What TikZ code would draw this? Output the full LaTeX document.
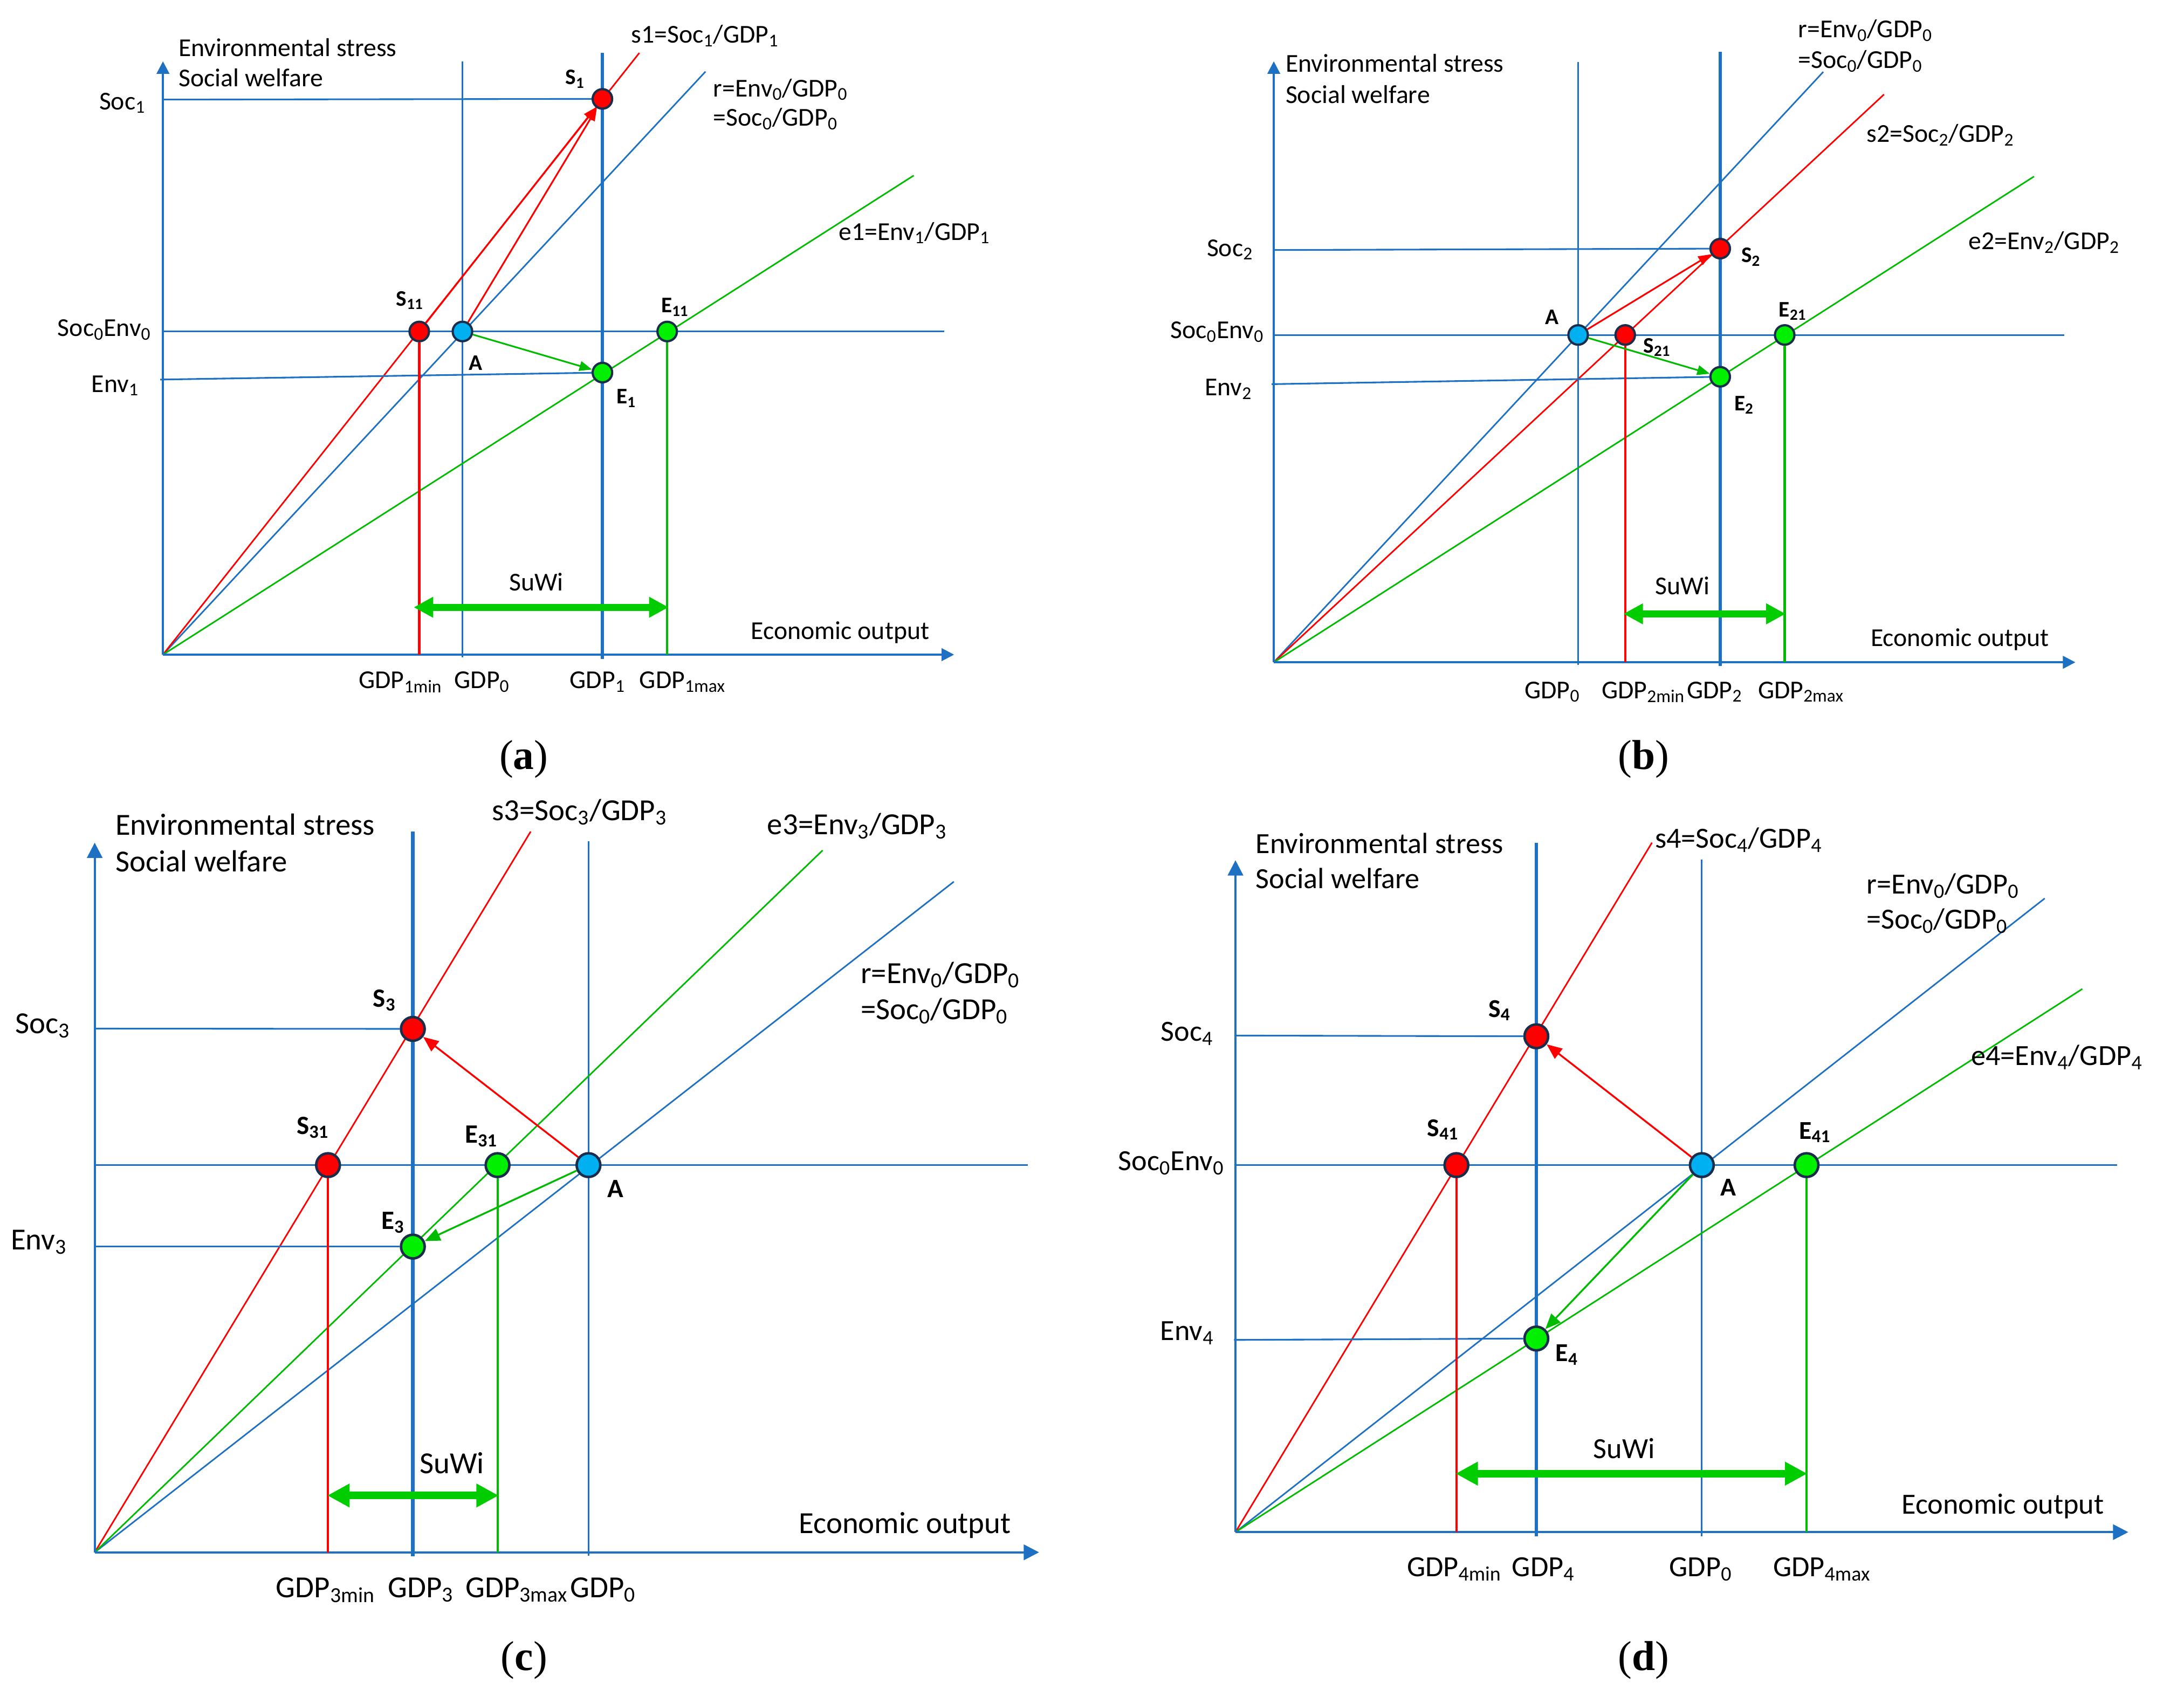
\documentclass[tikz,border=0pt]{standalone}
\usepackage{fontspec}
\setmainfont{Carlito}
\newfontfamily\capfont{Liberation Serif}
\usetikzlibrary{arrows.meta}
\definecolor{bl}{HTML}{1E71C2}
\definecolor{gl}{HTML}{00BB00}
\definecolor{sg}{HTML}{00CC00}
\definecolor{dg}{HTML}{00F000}
\definecolor{db}{HTML}{00B0F0}
\definecolor{nv}{HTML}{1A2E4C}
\newcommand{\sbs}[1]{\textsubscript{#1}}
\tikzset{
 axisl/.style={draw=bl, line width=1.5pt, -{Triangle[length=9pt,width=9pt]}},
 axisw/.style={draw=bl, line width=1.5pt, -{Triangle[length=11pt,width=11pt]}},
 gridl/.style={draw=bl, line width=1.2pt},
 thickv/.style={draw=bl, line width=2.6pt},
 rayR/.style={draw=red, line width=1.1pt},
 rayB/.style={draw=bl, line width=1.1pt},
 rayG/.style={draw=gl, line width=1.1pt},
 vR/.style={draw=red, line width=1.6pt},
 vG/.style={draw=gl, line width=1.6pt},
 arrR/.style={draw=red, line width=1.2pt, -{Triangle[length=9pt,width=7pt]}},
 arrG/.style={draw=gl, line width=1.2pt, -{Triangle[length=9pt,width=7pt]}},
 arrRw/.style={draw=red, line width=1.3pt, -{Triangle[length=11pt,width=9pt]}},
 arrGw/.style={draw=gl, line width=1.3pt, -{Triangle[length=11pt,width=9pt]}},
 suwiA/.style={draw=sg, line width=5pt, {Triangle[length=14pt,width=14pt]}-{Triangle[length=14pt,width=14pt]}},
 suwiC/.style={draw=sg, line width=5.5pt, {Triangle[length=16pt,width=16pt]}-{Triangle[length=16pt,width=16pt]}},
 pdot/.style={circle, draw=nv, line width=1.6pt, minimum size=14pt, inner sep=0pt},
 dR/.style={pdot, fill=red}, dG/.style={pdot, fill=dg}, dB/.style={pdot, fill=db},
 big/.style={minimum size=17pt, line width=1.8pt},
 ta/.style={inner sep=0pt, font=\fontsize{18.5}{22}\selectfont},
 tc/.style={inner sep=0pt, font=\fontsize{22}{26}\selectfont},
 td/.style={inner sep=0pt, font=\fontsize{21}{25}\selectfont},
 pa/.style={inner sep=0pt, font=\bfseries\fontsize{16}{19}\selectfont},
 pc/.style={inner sep=0pt, font=\bfseries\fontsize{19}{22}\selectfont},
 pd/.style={inner sep=0pt, font=\bfseries\fontsize{18.5}{22}\selectfont},
 capt/.style={inner sep=0pt, font=\capfont\fontsize{30}{34}\selectfont},
}
\begin{document}
\begin{tikzpicture}[x=1pt,y=-1pt]
\fill[white] (0,0) rectangle (1568,1213);
\useasboundingbox (0,0) rectangle (1568,1213);

% ===================== Panel (a) =====================
\coordinate (Oa) at (117,470);
\coordinate (YTa) at (117,44);
\coordinate (XTa) at (685,470);
\coordinate (Soc1a) at (117,71.5);
\coordinate (H0La) at (117,238);
\coordinate (H0Ra) at (678,238);
\coordinate (Env1a) at (115,272.5);
\coordinate (G0Ta) at (332,44);
\coordinate (G0Ba) at (332,472);
\coordinate (G1Ta) at (432.5,38);
\coordinate (G1Ba) at (432.5,473);
\coordinate (sEa) at (459,38);
\coordinate (rEa) at (506.5,51.4);
\coordinate (eEa) at (656,126);
\coordinate (SuLa) at (297,436);
\coordinate (SuRa) at (480,436);
\draw[gridl] (H0La) -- (H0Ra);
\draw[gridl] (G0Ta) -- (G0Ba);
\draw[thickv] (G1Ta) -- (G1Ba);
\draw[rayB] (Oa) -- (rEa);
\draw[rayR] (Oa) -- (sEa);
\draw[rayG] (Oa) -- (eEa);
\draw[axisl] (Oa) -- (YTa);
\draw[axisl] (Oa) -- (XTa);
\node[dR] (S1a) at (432.5,71) {};
\node[dR] (S11a) at (301,238) {};
\node[dB] (Aa) at (332,238) {};
\node[dG] (E11a) at (479,238) {};
\node[dG] (E1a) at (432.5,267.5) {};
\draw[gridl] (Soc1a) -- (S1a);
\draw[gridl] (Env1a) -- (E1a);
\draw[vR] (S11a) -- (S11a |- Oa);
\draw[vG] (E11a) -- (E11a |- Oa);
\draw[arrR] (S11a) -- (S1a);
\draw[arrR] (Aa) -- (S1a);
\draw[arrG] (Aa) -- (E1a);
\draw[suwiA] (SuLa) -- (SuRa);
\node[ta, anchor=base west] (ESa) at (128,40.5) {Environmental stress};
\node[ta, anchor=base west] (SWa) at (128,62) {Social welfare};
\node[ta, anchor=base east] (lSoc1a) at (104.6,78.6) {Soc\sbs{1}};
\node[ta, anchor=base east] (lSE0a) at (108.6,241.4) {Soc\sbs{0}Env\sbs{0}};
\node[ta, anchor=base east] (lEnv1a) at (99.8,281.5) {Env\sbs{1}};
\node[ta, anchor=base west] (ls1a) at (453,30.8) {s1=Soc\sbs{1}/GDP\sbs{1}};
\node[ta, anchor=base west] (lr1a) at (512,69.4) {r=Env\sbs{0}/GDP\sbs{0}};
\node[ta, anchor=base west] (lr2a) at (512,90.5) {=Soc\sbs{0}/GDP\sbs{0}};
\node[ta, anchor=base west] (le1a) at (602,172.4) {e1=Env\sbs{1}/GDP\sbs{1}};
\node[pa, anchor=base west] (tS1a) at (405.8,60.7) {S\sbs{1}};
\node[pa, anchor=base west] (tS11a) at (284.3,219.6) {S\sbs{11}};
\node[pa, anchor=base west] (tAa) at (336.3,265.8) {A};
\node[pa, anchor=base west] (tE11a) at (474.5,224.4) {E\sbs{11}};
\node[pa, anchor=base west] (tE1a) at (442.4,289.9) {E\sbs{1}};
\node[ta, anchor=base] (lSuWia) at (385,424) {SuWi};
\node[ta, anchor=base west] (lEOa) at (539,459) {Economic output};
\node[ta, anchor=base] (gmina) at (287.5,494.3) {GDP\sbs{1min}};
\node[ta, anchor=base] (g0a) at (346,494.3) {GDP\sbs{0}};
\node[ta, anchor=base] (g1a) at (429,494.3) {GDP\sbs{1}};
\node[ta, anchor=base] (gmaxa) at (490,494.3) {GDP\sbs{1max}};
\node[capt] (capa) at (376,545) {(\textbf{a})};

% ===================== Panel (b) =====================
\coordinate (Ob) at (914.5,475.5);
\coordinate (YTb) at (914.5,44);
\coordinate (XTb) at (1490,475.5);
\coordinate (Soc2b) at (914.5,179.5);
\coordinate (H0Lb) at (914.5,240.5);
\coordinate (H0Rb) at (1482,240.5);
\coordinate (Env2b) at (913,275.8);
\coordinate (G0Tb) at (1133,44.4);
\coordinate (G0Bb) at (1133,477.5);
\coordinate (G2Tb) at (1235,37.2);
\coordinate (G2Bb) at (1235,478);
\coordinate (rEb) at (1309,51.6);
\coordinate (sEb) at (1352.6,67.8);
\coordinate (eEb) at (1460.3,126.7);
\coordinate (SuLb) at (1165.5,440.7);
\coordinate (SuRb) at (1282,440.7);
\draw[gridl] (H0Lb) -- (H0Rb);
\draw[gridl] (G0Tb) -- (G0Bb);
\draw[thickv] (G2Tb) -- (G2Bb);
\draw[rayB] (Ob) -- (rEb);
\draw[rayR] (Ob) -- (sEb);
\draw[rayG] (Ob) -- (eEb);
\draw[axisl] (Ob) -- (YTb);
\draw[axisl] (Ob) -- (XTb);
\node[dR] (S2b) at (1235,178.5) {};
\node[dR] (S21b) at (1166.8,240.5) {};
\node[dB] (Ab) at (1133,240.5) {};
\node[dG] (E21b) at (1281.3,240.5) {};
\node[dG] (E2b) at (1235,270.5) {};
\draw[gridl] (Soc2b) -- (S2b);
\draw[gridl] (Env2b) -- (E2b);
\draw[vR] (S21b) -- (S21b |- Ob);
\draw[vG] (E21b) -- (E21b |- Ob);
\draw[arrR] (Ab) -- (S2b);
\draw[arrG] (Ab) -- (E2b);
\draw[suwiA] (SuLb) -- (SuRb);
\node[ta, anchor=base west] (ESb) at (922.8,51.6) {Environmental stress};
\node[ta, anchor=base west] (SWb) at (922.8,74) {Social welfare};
\node[ta, anchor=base east] (lSoc2b) at (899.8,184) {Soc\sbs{2}};
\node[ta, anchor=base east] (lSE0b) at (907.5,243) {Soc\sbs{0}Env\sbs{0}};
\node[ta, anchor=base east] (lEnv2b) at (899,284) {Env\sbs{2}};
\node[ta, anchor=base west] (lr1b) at (1290.8,27) {r=Env\sbs{0}/GDP\sbs{0}};
\node[ta, anchor=base west] (lr2b) at (1290.8,49) {=Soc\sbs{0}/GDP\sbs{0}};
\node[ta, anchor=base west] (ls2b) at (1340,102) {s2=Soc\sbs{2}/GDP\sbs{2}};
\node[ta, anchor=base west] (le2b) at (1413,179) {e2=Env\sbs{2}/GDP\sbs{2}};
\node[pa, anchor=base west] (tS2b) at (1250,188.4) {S\sbs{2}};
\node[pa, anchor=base west] (tS21b) at (1179.7,253.3) {S\sbs{21}};
\node[pa, anchor=base west] (tAb) at (1109.2,233) {A};
\node[pa, anchor=base west] (tE21b) at (1277,227.3) {E\sbs{21}};
\node[pa, anchor=base west] (tE2b) at (1244.9,294.7) {E\sbs{2}};
\node[ta, anchor=base] (lSuWib) at (1208,427) {SuWi};
\node[ta, anchor=base west] (lEOb) at (1342.9,464) {Economic output};
\node[ta, anchor=base] (g0b) at (1114.5,501.4) {GDP\sbs{0}};
\node[ta, anchor=base] (gminb) at (1179.8,501.4) {GDP\sbs{2min}};
\node[ta, anchor=base] (g2b) at (1231,501.4) {GDP\sbs{2}};
\node[ta, anchor=base] (gmaxb) at (1293,501.4) {GDP\sbs{2max}};
\node[capt] (capb) at (1180,545) {(\textbf{b})};

% ===================== Panel (c) =====================
\coordinate (Oc) at (68,1114.5);
\coordinate (YTc) at (68,605);
\coordinate (XTc) at (746,1114.5);
\coordinate (Soc3c) at (68,738.5);
\coordinate (H0Lc) at (68,836.5);
\coordinate (H0Rc) at (738,836.5);
\coordinate (Env3c) at (68,895);
\coordinate (G3Tc) at (296.4,597);
\coordinate (G3Bc) at (296.4,1117.5);
\coordinate (G0Tc) at (422.5,604);
\coordinate (G0Bc) at (422.5,1117);
\coordinate (sEc) at (381,597);
\coordinate (eEc) at (590.6,610.5);
\coordinate (rEc) at (684.8,633);
\coordinate (SuLc) at (235,1073.7);
\coordinate (SuRc) at (358,1073.7);
\draw[gridl] (H0Lc) -- (H0Rc);
\draw[gridl] (G0Tc) -- (G0Bc);
\draw[thickv] (G3Tc) -- (G3Bc);
\draw[rayB] (Oc) -- (rEc);
\draw[rayR] (Oc) -- (sEc);
\draw[rayG] (Oc) -- (eEc);
\draw[axisw] (Oc) -- (YTc);
\draw[axisw] (Oc) -- (XTc);
\node[dR, big] (S3c) at (296.4,738.7) {};
\node[dR, big] (S31c) at (235.5,836.5) {};
\node[dG, big] (E31c) at (357.2,836.5) {};
\node[dG, big] (E3c) at (296.4,895) {};
\node[dB, big] (Ac) at (422.5,836.5) {};
\draw[gridl] (Soc3c) -- (S3c);
\draw[gridl] (Env3c) -- (E3c);
\draw[vR] (S31c) -- (S31c |- Oc);
\draw[vG] (E31c) -- (E31c |- Oc);
\draw[arrRw] (Ac) -- (S3c);
\draw[arrGw] (Ac) -- (E3c);
\draw[suwiC] (SuLc) -- (SuRc);
\node[tc, anchor=base west] (ESc) at (82.7,599.5) {Environmental stress};
\node[tc, anchor=base west] (SWc) at (82.7,625.7) {Social welfare};
\node[tc, anchor=base east] (lSoc3c) at (50.7,742.1) {Soc\sbs{3}};
\node[tc, anchor=base east] (lEnv3c) at (48.2,897.2) {Env\sbs{3}};
\node[tc, anchor=base west] (ls3c) at (353,589) {s3=Soc\sbs{3}/GDP\sbs{3}};
\node[tc, anchor=base west] (le3c) at (550.7,599.2) {e3=Env\sbs{3}/GDP\sbs{3}};
\node[tc, anchor=base west] (lr1c) at (617.7,705.8) {r=Env\sbs{0}/GDP\sbs{0}};
\node[tc, anchor=base west] (lr2c) at (617.7,732) {=Soc\sbs{0}/GDP\sbs{0}};
\node[pc, anchor=base west] (tS3c) at (267.7,723) {S\sbs{3}};
\node[pc, anchor=base west] (tS31c) at (212.8,814.4) {S\sbs{31}};
\node[pc, anchor=base west] (tE31c) at (333.6,820.4) {E\sbs{31}};
\node[pc, anchor=base west] (tE3c) at (273.6,882.5) {E\sbs{3}};
\node[pc, anchor=base west] (tAc) at (435.9,859.8) {A};
\node[tc, anchor=base] (lSuWic) at (324.5,1058) {SuWi};
\node[tc, anchor=base west] (lEOc) at (573.4,1101) {Economic output};
\node[tc, anchor=base] (gminc) at (233.7,1147) {GDP\sbs{3min}};
\node[tc, anchor=base] (g3c) at (302,1147) {GDP\sbs{3}};
\node[tc, anchor=base] (gmaxc) at (371,1147) {GDP\sbs{3max}};
\node[tc, anchor=base] (g0c) at (433,1147) {GDP\sbs{0}};
\node[capt] (capc) at (376.3,1192) {(\textbf{c})};

% ===================== Panel (d) =====================
\coordinate (Od) at (887,1100);
\coordinate (YTd) at (887,617.6);
\coordinate (XTd) at (1528,1100);
\coordinate (Soc4d) at (887,743.5);
\coordinate (H0Ld) at (887,836.5);
\coordinate (H0Rd) at (1520,836.5);
\coordinate (Env4d) at (886,962);
\coordinate (G4Td) at (1103,605);
\coordinate (G4Bd) at (1103,1103);
\coordinate (G0Td) at (1221.8,617);
\coordinate (G0Bd) at (1221.8,1103);
\coordinate (sEd) at (1186,605);
\coordinate (rEd) at (1468,645);
\coordinate (eEd) at (1495,710);
\coordinate (SuLd) at (1045,1058);
\coordinate (SuRd) at (1297.5,1058);
\draw[gridl] (H0Ld) -- (H0Rd);
\draw[gridl] (G0Td) -- (G0Bd);
\draw[thickv] (G4Td) -- (G4Bd);
\draw[rayB] (Od) -- (rEd);
\draw[rayR] (Od) -- (sEd);
\draw[rayG] (Od) -- (eEd);
\draw[axisw] (Od) -- (YTd);
\draw[axisw] (Od) -- (XTd);
\node[dR, big] (S4d) at (1103,744) {};
\node[dR, big] (S41d) at (1045.6,836.5) {};
\node[dB, big] (Ad) at (1221.8,836.5) {};
\node[dG, big] (E41d) at (1297,836.5) {};
\node[dG, big] (E4d) at (1103,961) {};
\draw[gridl] (Soc4d) -- (S4d);
\draw[gridl] (Env4d) -- (E4d);
\draw[vR] (S41d) -- (S41d |- Od);
\draw[vG] (E41d) -- (E41d |- Od);
\draw[arrRw] (Ad) -- (S4d);
\draw[arrGw] (Ad) -- (E4d);
\draw[suwiC] (SuLd) -- (SuRd);
\node[td, anchor=base west] (ESd) at (901.4,612.5) {Environmental stress};
\node[td, anchor=base west] (SWd) at (901.4,637.9) {Social welfare};
\node[td, anchor=base east] (lSoc4d) at (871.2,747.3) {Soc\sbs{4}};
\node[td, anchor=base east] (lSE0d) at (879,840.2) {Soc\sbs{0}Env\sbs{0}};
\node[td, anchor=base east] (lEnv4d) at (871.7,962.2) {Env\sbs{4}};
\node[td, anchor=base west] (ls4d) at (1188,608.7) {s4=Soc\sbs{4}/GDP\sbs{4}};
\node[td, anchor=base west] (lr1d) at (1340,641.7) {r=Env\sbs{0}/GDP\sbs{0}};
\node[td, anchor=base west] (lr2d) at (1340,666.7) {=Soc\sbs{0}/GDP\sbs{0}};
\node[td, anchor=base west] (le4d) at (1415,764.7) {e4=Env\sbs{4}/GDP\sbs{4}};
\node[pd, anchor=base west] (tS4d) at (1068.5,730.2) {S\sbs{4}};
\node[pd, anchor=base west] (tS41d) at (1024.5,815.8) {S\sbs{41}};
\node[pd, anchor=base west] (tAd) at (1234.9,858.6) {A};
\node[pd, anchor=base west] (tE41d) at (1291.5,817.7) {E\sbs{41}};
\node[pd, anchor=base west] (tE4d) at (1116.7,977.4) {E\sbs{4}};
\node[td, anchor=base] (lSuWid) at (1166,1047) {SuWi};
\node[td, anchor=base west] (lEOd) at (1365,1087) {Economic output};
\node[td, anchor=base] (gmind) at (1044,1132) {GDP\sbs{4min}};
\node[td, anchor=base] (g4d) at (1108,1132) {GDP\sbs{4}};
\node[td, anchor=base] (g0d) at (1221,1132) {GDP\sbs{0}};
\node[td, anchor=base] (gmaxd) at (1308,1132) {GDP\sbs{4max}};
\node[capt] (capd) at (1180,1192) {(\textbf{d})};
\end{tikzpicture}
\end{document}
